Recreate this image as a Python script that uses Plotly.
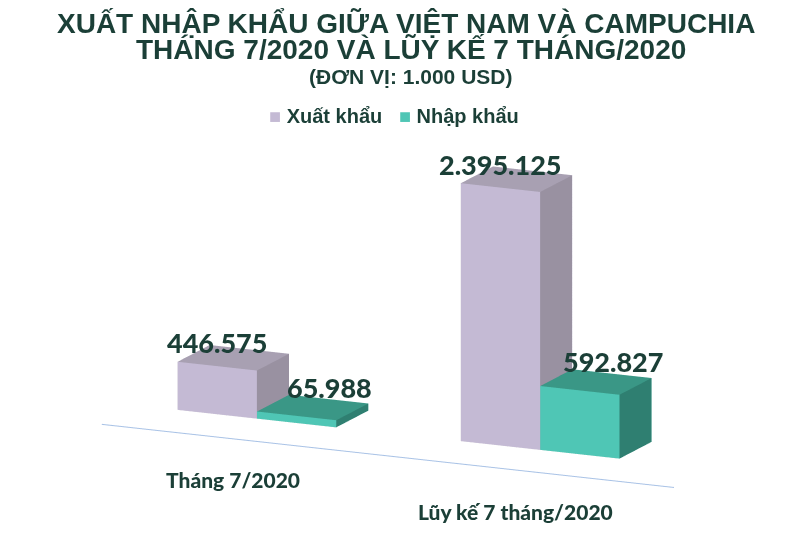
import plotly.graph_objects as go

# ---------------- data ----------------
categories = ["Tháng 7/2020", "Lũy kế 7 tháng/2020"]
series_names = ["Xuất khẩu", "Nhập khẩu"]
xuat_khau = [446575, 2395125]
nhap_khau = [65988, 592827]

# ---------------- style ----------------
DARK = "#1B3F37"
TITLE_FONT = "Liberation Sans, Arial, sans-serif"
LABEL_FONT = "Lato, Open Sans, sans-serif"
# front, right side, top
COLORS = {
    "Xuất khẩu": ("#C4BAD4", "#9991A1", "#A8A0B2"),
    "Nhập khẩu": ("#4FC6B5", "#2F7F71", "#3A9786"),
}
LEGEND_COLORS = {"Xuất khẩu": "#C4BAD4", "Nhập khẩu": "#4FC6B5"}
BAR_W = 0.28      # width of one bar (category spacing = 1)
BAR_D = 0.24      # bar depth
LINE_Y = -0.27    # depth position of the floor line
SCALE = 1.48
X_SCALE = 0.973


def fmt(v):
    return f"{v:,}".replace(",", ".")


def box_mesh(x0, x1, y0, y1, z0, z1, cols, name):
    front, side, top = cols
    xs = [x0, x1, x1, x0, x0, x1, x1, x0]
    ys = [y0, y0, y1, y1, y0, y0, y1, y1]
    zs = [z0, z0, z0, z0, z1, z1, z1, z1]
    tris = [
        (0, 1, 5, front), (0, 5, 4, front),
        (1, 2, 6, side), (1, 6, 5, side),
        (4, 5, 6, top), (4, 6, 7, top),
        (3, 7, 6, front), (3, 6, 2, front),
        (0, 4, 7, side), (0, 7, 3, side),
        (0, 3, 2, top), (0, 2, 1, top),
    ]
    return go.Mesh3d(
        x=xs, y=ys, z=zs,
        i=[t[0] for t in tris], j=[t[1] for t in tris], k=[t[2] for t in tris],
        facecolor=[t[3] for t in tris],
        flatshading=True,
        lighting=dict(ambient=1, diffuse=0, specular=0, roughness=1, fresnel=0),
        hoverinfo="skip", showscale=False, name=name, showlegend=False,
    )


fig = go.Figure()
annotations3d = []
series = [("Xuất khẩu", xuat_khau, -1, 0, 23), ("Nhập khẩu", nhap_khau, 0, 33, 28)]
for ci, cat in enumerate(categories):
    for name, vals, off, xs_, ys_ in series:
        x0 = ci + off * BAR_W
        x1 = x0 + BAR_W
        v = vals[ci]
        fig.add_trace(box_mesh(x0, x1, 0, BAR_D, 0, v, COLORS[name], name))
        annotations3d.append(dict(
            x=(x0 + x1) / 2, y=0, z=v, text=fmt(v), showarrow=False,
            xshift=xs_, yshift=ys_,
            font=dict(family=LABEL_FONT, size=27, color=DARK, weight=900),
        ))
    annotations3d.append(dict(
        x=ci, y=LINE_Y, z=0, text=cat, showarrow=False, xshift=12, yshift=-43,
        font=dict(family=LABEL_FONT, size=21, color=DARK, weight=900),
    ))

# floor line
fig.add_trace(go.Scatter3d(
    x=[-0.42, 1.77], y=[LINE_Y, LINE_Y], z=[0, 0], mode="lines",
    line=dict(color="#A9C3E6", width=2), hoverinfo="skip", showlegend=False,
))

H = 541
EYE_DIR = (0.46, -1.0, 0.272)
EYE_LEN = 1.10
legend_text = "   ".join(
    f"<span style='color:{LEGEND_COLORS[n]}'>■</span> {n}" for n in series_names
)
fig.update_layout(
    width=805, height=541,
    margin=dict(l=0, r=0, t=0, b=0),
    paper_bgcolor="white", plot_bgcolor="white",
    template="none",
    showlegend=False,
    scene=dict(
        domain=dict(x=[0, 0.945], y=[0.062, 0.862]),
        xaxis=dict(visible=False, range=[-0.6, 1.6]),
        yaxis=dict(visible=False, range=[-0.5, 0.35]),
        zaxis=dict(visible=False, range=[0, 2600000]),
        aspectmode="manual",
        aspectratio=dict(x=2.2 * SCALE * X_SCALE, y=0.85 * SCALE, z=0.9 * SCALE),
        camera=dict(eye=dict(x=EYE_DIR[0] * EYE_LEN, y=EYE_DIR[1] * EYE_LEN,
                             z=EYE_DIR[2] * EYE_LEN),
                    center=dict(x=0, y=0, z=0), up=dict(x=0, y=0, z=1),
                    projection=dict(type="orthographic")),
        annotations=annotations3d,
        bgcolor="white",
    ),
    annotations=[
        dict(text="XUẤT NHẬP KHẨU GIỮA VIỆT NAM VÀ CAMPUCHIA", x=0.495, y=1 - 15 / H,
             xref="paper", yref="paper", showarrow=False, yanchor="middle",
             font=dict(family=TITLE_FONT, size=28, color=DARK, weight="bold")),
        dict(text="THÁNG 7/2020 VÀ LŨY KẾ 7 THÁNG/2020", x=0.5, y=1 - 42 / H,
             xref="paper", yref="paper", showarrow=False, yanchor="middle",
             font=dict(family=TITLE_FONT, size=28, color=DARK, weight="bold")),
        dict(text="(ĐƠN VỊ: 1.000 USD)", x=0.5, y=1 - 68 / H,
             xref="paper", yref="paper", showarrow=False, yanchor="middle",
             font=dict(family=TITLE_FONT, size=21, color=DARK, weight="bold")),
        dict(text=legend_text, x=0.48, y=1 - 108 / H,
             xref="paper", yref="paper", showarrow=False, yanchor="middle",
             font=dict(family=TITLE_FONT, size=20, color=DARK, weight="bold")),
    ],
)

fig.write_html("out.html")
